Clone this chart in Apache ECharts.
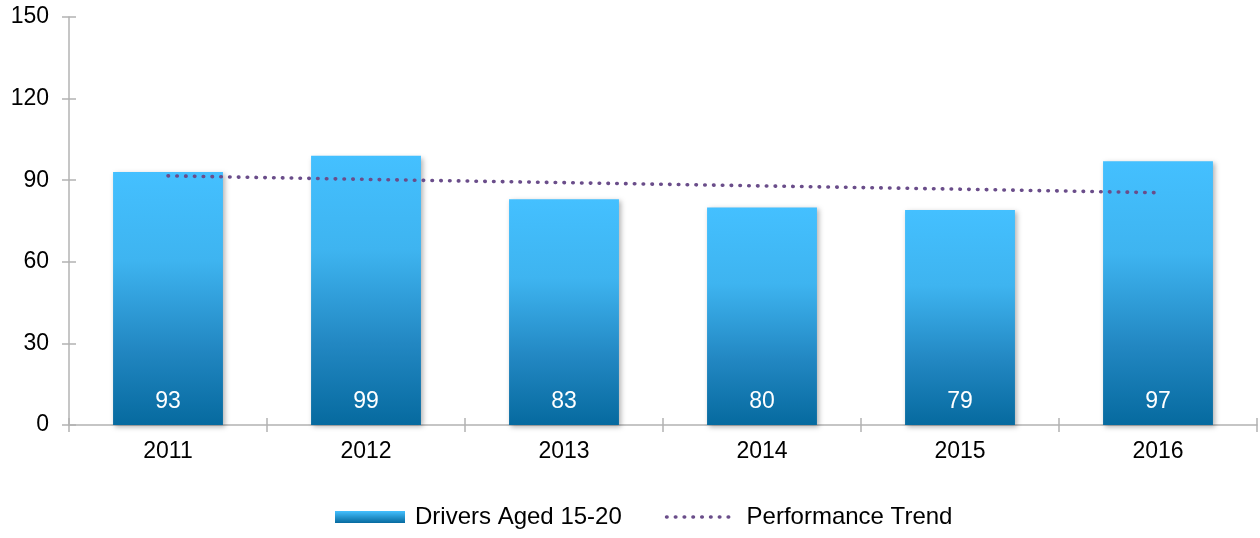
<!DOCTYPE html>
<html><head><meta charset="utf-8">
<script src="https://cdn.jsdelivr.net/npm/echarts@6/dist/echarts.min.js"></script>
<style>html,body{margin:0;padding:0;background:#fff}#c{width:1260px;height:538px}</style>
</head><body><div id="c"></div>
<script>
const categories = ['2011','2012','2013','2014','2015','2016'];
const drivers = [93, 99, 83, 80, 79, 97];
const trend = [91.6, 90.3, 89.1, 87.9, 86.7, 85.4];
const yTicks = [0, 30, 60, 90, 120, 150];

const chart = echarts.init(document.getElementById('c'), null, {renderer: 'canvas'});
const font = 'Liberation Sans, Arial, sans-serif';
const axisColor = '#b3b3b3';
const trendColor = '#6a4d8a';
const grad = new echarts.graphic.LinearGradient(0, 0, 0, 1, [
  {offset: 0, color: '#44c0ff'},
  {offset: 0.35, color: '#3eb4f0'},
  {offset: 0.7, color: '#2287c2'},
  {offset: 1, color: '#066a9f'}
]);
const legendGrad = new echarts.graphic.LinearGradient(0, 0, 0, 1, [
  {offset: 0, color: '#44c0ff'},
  {offset: 1, color: '#066a9f'}
]);
chart.setOption({
  animation: false,
  grid: {left: 69, right: 3, top: 17, bottom: 113},
  legend: {
    bottom: 4, left: 330, itemGap: 43, itemWidth: 70, itemHeight: 12,
    textStyle: {fontFamily: font, fontSize: 24, color: '#000', padding: [0, 0, 0, 5]},
    data: [
      {name: 'Drivers Aged 15-20', icon: 'rect', itemStyle: {color: legendGrad}},
      {name: 'Performance Trend', itemStyle: {opacity: 0},
       lineStyle: {color: trendColor, width: 3.6, type: [0.5, 8.3], cap: 'round'}}
    ]
  },
  xAxis: [{
    type: 'category', data: categories, boundaryGap: true,
    axisLine: {lineStyle: {color: axisColor, width: 1.5}},
    axisTick: {show: true, length: 7, lineStyle: {color: axisColor, width: 1.5}},
    axisLabel: {fontFamily: font, fontSize: 23, color: '#000', margin: 15}
  }, {
    type: 'category', data: categories, boundaryGap: true, position: 'bottom',
    axisLine: {show: false},
    axisTick: {show: true, inside: true, length: 7, lineStyle: {color: axisColor, width: 1.5}},
    axisLabel: {show: false}
  }],
  yAxis: [{
    type: 'value', min: 0, max: 150, interval: 30,
    axisLine: {show: true, lineStyle: {color: axisColor, width: 1.5}},
    axisTick: {show: true, length: 7, lineStyle: {color: axisColor, width: 1.5}},
    splitLine: {show: false},
    axisLabel: {fontFamily: font, fontSize: 23, color: '#000', margin: 20,
      formatter: v => yTicks.includes(v) ? String(v) : ''}
  }, {
    type: 'value', min: 0, max: 150, interval: 30, position: 'left',
    axisLine: {show: false},
    axisTick: {show: true, inside: true, length: 7, lineStyle: {color: axisColor, width: 1.5}},
    splitLine: {show: false},
    axisLabel: {show: false}
  }],
  series: [{
    name: 'Drivers Aged 15-20', type: 'bar', data: drivers, barWidth: '55.5%',
    itemStyle: {color: grad, shadowBlur: 5, shadowOffsetX: 2, shadowOffsetY: 2, shadowColor: 'rgba(0,0,0,0.3)'},
    label: {show: true, position: 'insideBottom', distance: 12, color: '#fff', fontFamily: font, fontSize: 23},
    z: 2
  }, {
    name: 'Performance Trend', type: 'line', data: trend, symbol: 'none', color: trendColor,
    lineStyle: {color: trendColor, width: 3.6, type: [0.5, 8.3], cap: 'round'},
    z: 3
  }]
});
</script></body></html>
